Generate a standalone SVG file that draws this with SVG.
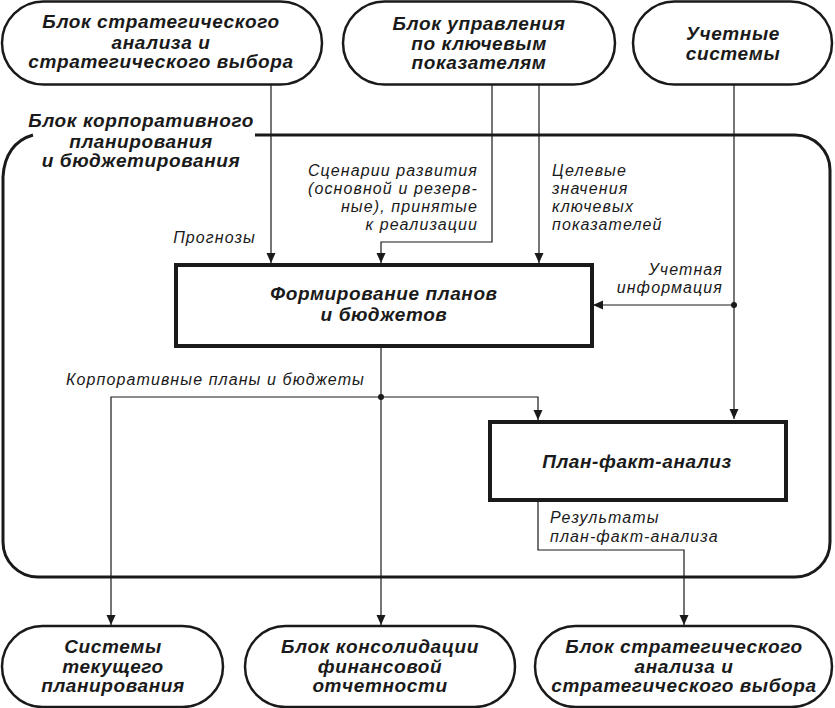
<svg xmlns="http://www.w3.org/2000/svg" width="835" height="708" viewBox="0 0 835 708">
<defs>
<style>
.node{fill:#fff;stroke:#1a1a1a;stroke-width:2.5}
.proc{fill:#fff;stroke:#1a1a1a;stroke-width:4}
.cont{fill:none;stroke:#1a1a1a;stroke-width:3}
.ln{fill:none;stroke:#1a1a1a;stroke-width:1.2}
.nt{font-family:"Liberation Sans",Arial,sans-serif;font-weight:bold;font-style:italic;font-size:19px;fill:#1a1a1a;text-anchor:middle;letter-spacing:0.6px}
.lb{font-family:"Liberation Sans",Arial,sans-serif;font-style:italic;font-size:16px;fill:#1a1a1a;letter-spacing:1.1px}
.r{text-anchor:end}
</style>
<marker id="ar" viewBox="0 0 10 10" refX="10" refY="5" markerWidth="10" markerHeight="10" markerUnits="userSpaceOnUse" orient="auto">
<path d="M0,0.5 L10,5 L0,9.5 Z" fill="#1a1a1a"/>
</marker>
</defs>
<rect width="835" height="708" fill="#fff"/>

<g id="container">
<path class="cont" d="M33,135 C15,140 4,155 3,177 L3,542 A35,35 0 0 0 38,577 L795,577 A35,35 0 0 0 830,542 L830,170 A35,35 0 0 0 795,135 L255,135"/>
<text class="nt" x="141" y="127">Блок корпоративного</text>
<text class="nt" x="141" y="148">планирования</text>
<text class="nt" x="141" y="167">и бюджетирования</text>
</g>

<g id="connectors">
<path class="ln" d="M271,85 L271,263" marker-end="url(#ar)"/>
<path class="ln" d="M492,85 L492,242 L381,242 L381,263" marker-end="url(#ar)"/>
<path class="ln" d="M539,85 L539,263" marker-end="url(#ar)"/>
<path class="ln" d="M734,85 L734,419" marker-end="url(#ar)"/>
<path class="ln" d="M734,305 L593,305" marker-end="url(#ar)"/>
<path class="ln" d="M381,346 L381,625" marker-end="url(#ar)"/>
<path class="ln" d="M381,397 L111,397 L111,625" marker-end="url(#ar)"/>
<path class="ln" d="M381,397 L538,397 L538,420" marker-end="url(#ar)"/>
<path class="ln" d="M538,498 L538,550 L684,550 L684,625" marker-end="url(#ar)"/>
<circle cx="734" cy="305" r="3" fill="#1a1a1a"/>
<circle cx="381" cy="397" r="3" fill="#1a1a1a"/>
<text class="lb r" x="256" y="243">Прогнозы</text>
<text class="lb r" x="478" y="176">Сценарии развития</text>
<text class="lb r" x="478" y="194">(основной и резерв-</text>
<text class="lb r" x="478" y="212">ные), принятые</text>
<text class="lb r" x="478" y="230">к реализации</text>
<text class="lb" x="552" y="176">Целевые</text>
<text class="lb" x="552" y="194">значения</text>
<text class="lb" x="552" y="212">ключевых</text>
<text class="lb" x="552" y="230">показателей</text>
<text class="lb r" x="723" y="275">Учетная</text>
<text class="lb r" x="723" y="293">информация</text>
<text class="lb r" x="365" y="385">Корпоративные планы и бюджеты</text>
<text class="lb" x="550" y="523">Результаты</text>
<text class="lb" x="550" y="542">план-факт-анализа</text>
</g>

<g id="n-strat-top">
<rect class="node" x="2" y="1.5" width="320" height="83" rx="41.5"/>
<text class="nt" x="161" y="28">Блок стратегического</text>
<text class="nt" x="161" y="49">анализа и</text>
<text class="nt" x="161" y="68">стратегического выбора</text>
</g>
<g id="n-kpi">
<rect class="node" x="343" y="1.5" width="272" height="83" rx="41.5"/>
<text class="nt" x="479" y="30">Блок управления</text>
<text class="nt" x="479" y="50">по ключевым</text>
<text class="nt" x="479" y="69">показателям</text>
</g>
<g id="n-acct">
<rect class="node" x="633" y="1.5" width="199" height="83" rx="41.5"/>
<text class="nt" x="733" y="40">Учетные</text>
<text class="nt" x="733" y="60">системы</text>
</g>

<g id="n-form">
<rect class="proc" x="176" y="265" width="416" height="81"/>
<text class="nt" x="384" y="300">Формирование планов</text>
<text class="nt" x="384" y="321">и бюджетов</text>
</g>
<g id="n-pf">
<rect class="proc" x="490" y="422" width="296" height="78"/>
<text class="nt" x="637" y="468">План-факт-анализ</text>
</g>

<g id="n-current">
<rect class="node" x="2" y="626" width="221" height="81" rx="40.5"/>
<text class="nt" x="113" y="653">Системы</text>
<text class="nt" x="113" y="673">текущего</text>
<text class="nt" x="113" y="692">планирования</text>
</g>
<g id="n-consol">
<rect class="node" x="245" y="626" width="270" height="81" rx="40.5"/>
<text class="nt" x="380" y="653">Блок консолидации</text>
<text class="nt" x="380" y="673">финансовой</text>
<text class="nt" x="380" y="692">отчетности</text>
</g>
<g id="n-strat-bot">
<rect class="node" x="535" y="626" width="297" height="81" rx="40.5"/>
<text class="nt" x="684" y="653">Блок стратегического</text>
<text class="nt" x="684" y="673">анализа и</text>
<text class="nt" x="684" y="692">стратегического выбора</text>
</g>
</svg>
